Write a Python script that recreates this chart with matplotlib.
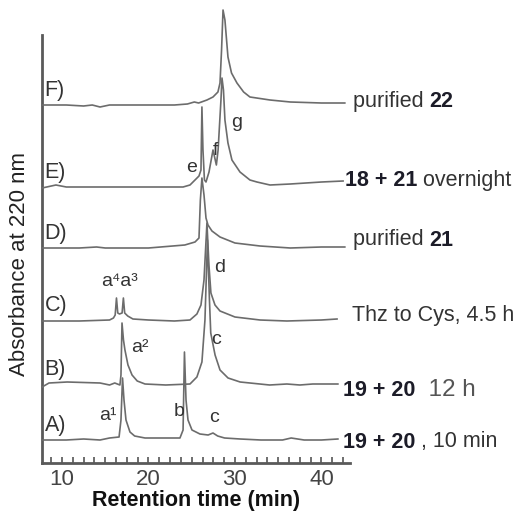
import matplotlib
matplotlib.use("Agg")
import matplotlib.pyplot as plt
from matplotlib.ticker import MultipleLocator

plt.rcParams['font.family'] = ['Liberation Sans', 'DejaVu Sans']

# retention time (min) and absorbance above each trace's own baseline (a.u.)
time_a = [7.7, 10.5, 12.5, 14.4, 15.5, 16.6, 16.82, 17.0, 17.17, 17.4, 17.86, 18.4, 19.6, 21.0, 23.64, 24.0,
          24.16, 24.34, 24.57, 25.03, 25.95, 26.9, 27.46, 28.0, 28.8, 30.6, 33.0, 35.5, 36.5, 38.0, 40.0, 41.9]
abs_a = [0, 0, 1, 0, 2, 3, 20, 62, 40, 20, 8, 4, 2, 2, 2, 10,
         88, 40, 20, 10, 6, 5, 7, 4, 2, 1, 0, 0, 2, 0, 0, 1]

time_b = [7.7, 8.5, 10.6, 14.4, 15.5, 16.1, 16.7, 16.82, 16.94, 17.11, 17.28, 17.63, 18.1, 18.7, 19.6, 22.0,
          24.8, 25.6, 26.18, 26.53, 26.82, 27.05, 27.2, 27.7, 28.27, 29.2, 30.6, 34.0, 36.0, 37.5, 39.0, 41.9]
abs_b = [-2, 2, 3, 2, 0, 2, 0, 10, 62, 45, 35, 20, 10, 4, 1, 0,
         1, 8, 23, 65, 145, 85, 52, 30, 15, 7, 3, 0, 1, 0, 1, 1]

time_c = [7.7, 12.0, 15.5, 15.95, 16.15, 16.3, 16.45, 16.65, 16.95, 17.1, 17.25, 17.6, 18.2, 20.0, 23.0,
          24.8, 25.6, 26.07, 26.42, 26.76, 26.99, 27.22, 27.69, 28.27, 30.0, 32.9, 36.0, 40.0, 41.8]
abs_c = [0, 0, 1, 3, 6, 23, 8, 7, 8, 23, 8, 5, 2, 1, 0,
         1, 7, 16, 41, 98, 56, 28, 16, 10, 4, 1, 0, 1, 2]

time_d = [7.7, 12.0, 14.0, 15.0, 17.0, 20.0, 24.2, 25.38, 25.84, 26.0, 26.18, 26.42, 26.65, 26.88, 27.34,
          28.27, 30.0, 32.9, 36.4, 40.0, 42.7]
abs_d = [0, 0, 1, 0, 0, 0, 3, 6, 10, 48, 70, 53, 30, 23, 17,
         11, 5, 2, 0, 1, 1]

time_e = [7.7, 9.3, 10.5, 14.0, 20.0, 24.0, 24.8, 25.38, 25.84, 26.07, 26.18, 26.3, 26.47, 26.65, 27.0, 27.46,
          27.85, 28.05, 28.38, 28.5, 28.67, 28.84, 29.19, 29.65, 30.58, 31.73, 32.54, 34.05, 36.4, 40.0, 42.5]
abs_e = [-1, 2, 0, 0, 0, 0, 2, 7, 11, 17, 80, 37, 7, 5, 15, 37,
         22, 37, 87, 109, 97, 67, 44, 27, 15, 7, 5, 2, 3, 5, 6]

time_f = [7.7, 10.5, 12.5, 13.5, 14.4, 15.5, 18.0, 23.0, 24.5, 25.3, 25.8, 26.76, 27.46, 28.03, 28.27, 28.45,
          28.62, 28.84, 29.19, 29.6, 30.23, 31.0, 31.73, 34.05, 36.4, 40.0, 42.7]
abs_f = [0, 0, -1, 0, -2, 0, 0, 0, 1, 3, 2, 5, 8, 13, 22, 55,
         95, 85, 48, 32, 22, 13, 8, 5, 3, 2, 2]

trace_names = ["A)", "B)", "C)", "D)", "E)", "F)"]
times = [time_a, time_b, time_c, time_d, time_e, time_f]
values = [abs_a, abs_b, abs_c, abs_d, abs_e, abs_f]
baselines = [23, 78, 142, 215, 276, 358]  # vertical stacking of the traces

trace_col = "#6c6c6c"
text_col = "#333333"
bold_col = "#1c1c28"

fig = plt.figure(figsize=(5.27, 5.14), dpi=100)
ax = fig.add_axes([42 / 527, 51 / 514, 308 / 527, 428 / 514])

for t, v, base, name in zip(times, values, baselines, trace_names):
    ax.plot(t, [base + a for a in v], color=trace_col, lw=1.2, clip_on=False, zorder=3)
    ax.text(8.0, base + 15, name, fontsize=15.5, color=text_col, va="center", ha="left")

# peak labels
peak_style = dict(fontsize=14, color=text_col, ha="center", va="center")
ax.text(15.32, 47, "a\u00b9", **peak_style)
ax.text(19.02, 115, "a\u00b2", **peak_style)
ax.text(16.6, 182, "a\u2074a\u00b3", **peak_style)
ax.text(23.53, 51, "b", **peak_style)
ax.text(27.57, 46, "c", **peak_style)
ax.text(27.8, 124, "c", **peak_style)
ax.text(28.27, 196, "d", **peak_style)
ax.text(25.03, 296, "e", **peak_style)
ax.text(27.69, 313, "f", **peak_style)
ax.text(30.23, 341, "g", **peak_style)

# sample descriptions at the right end of each trace
right = dict(fontsize=15.5, va="center", ha="left", clip_on=False)
t1 = ax.text(43.64, 362, "purified ", color=text_col, **right)
ax.annotate("22", xy=(1, 0), xycoords=t1, va="bottom", fontsize=15.5, weight="bold", color=bold_col)
t2 = ax.text(42.72, 283, "18 + 21", color=bold_col, weight="bold", **right)
ax.annotate(" overnight", xy=(1, 0), xycoords=t2, va="bottom", fontsize=15.5, color=text_col)
t3 = ax.text(43.64, 223, "purified ", color=text_col, **right)
ax.annotate("21", xy=(1, 0), xycoords=t3, va="bottom", fontsize=15.5, weight="bold", color=bold_col)
ax.text(43.53, 147, "Thz to Cys, 4.5 h", color=text_col, **right)
t5 = ax.text(42.49, 73, "19 + 20", color=bold_col, weight="bold", **right)
ax.annotate("  12 h", xy=(1, 0), xycoords=t5, va="bottom", fontsize=17.5, color="#555555")
t6 = ax.text(42.49, 21, "19 + 20", color=bold_col, weight="bold", **right)
ax.annotate(" , 10 min", xy=(1, 0), xycoords=t6, va="bottom", fontsize=15.5, color=text_col)

ax.set_xlim(7.69, 43.3)
ax.set_ylim(0, 428)
ax.set_yticks([])
ax.xaxis.set_major_locator(MultipleLocator(10))
ax.xaxis.set_minor_locator(MultipleLocator(1.25))
ax.tick_params(axis="x", which="both", direction="in", length=4, width=1.2, colors="#555555",
               labelsize=16, labelcolor="#444444", pad=4)
for side in ["top", "right"]:
    ax.spines[side].set_visible(False)
for side in ["left", "bottom"]:
    ax.spines[side].set_color("#5a5a5a")
    ax.spines[side].set_linewidth(2.0)

ax.set_xlabel("Retention time (min)", fontsize=15.5, weight="bold", color="#111111", labelpad=0)
ax.set_ylabel("Absorbance at 220 nm", fontsize=16, color="#222222")
ax.yaxis.set_label_coords(-0.04, 0.465)

fig.savefig("out.png", dpi=100)
